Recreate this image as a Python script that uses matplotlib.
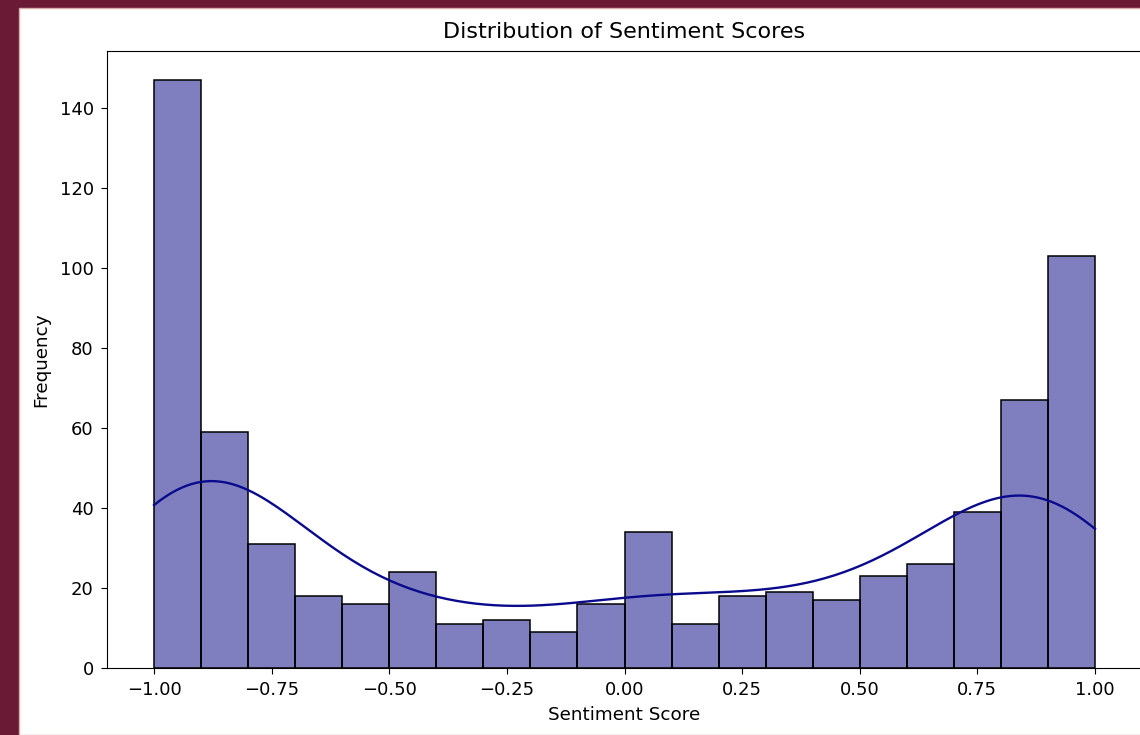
import numpy as np
import matplotlib.pyplot as plt
from matplotlib.patches import Rectangle

# histogram of sentiment scores, 20 bins of width 0.1 on [-1, 1]
bin_edges = np.linspace(-1.0, 1.0, 21)
counts = [147, 59, 31, 18, 16, 24, 11, 12, 9, 16,
          34, 11, 18, 19, 17, 23, 26, 39, 67, 103]
x_ticks = [-1.0, -0.75, -0.5, -0.25, 0.0, 0.25, 0.5, 0.75, 1.0]
x_tick_labels = ['\u22121.00', '\u22120.75', '\u22120.50', '\u22120.25', '0.00',
                 '0.25', '0.50', '0.75', '1.00']

centers = (bin_edges[:-1] + bin_edges[1:]) / 2
weights = np.array(counts, dtype=float)
n = weights.sum()
width = bin_edges[1] - bin_edges[0]

# gaussian kde over the binned scores, scott bandwidth, scaled to counts
mean = np.sum(weights * centers) / n
std = np.sqrt(np.sum(weights * (centers - mean) ** 2) / (n - 1))
bw = std * n ** (-1 / 5)
xs = np.linspace(-1.0, 1.0, 200)
dens = np.sum(weights[None, :] * np.exp(-0.5 * ((xs[:, None] - centers[None, :]) / bw) ** 2), axis=1)
dens = dens / (n * bw * np.sqrt(2 * np.pi))
kde_counts = dens * n * width

fig = plt.figure(figsize=(11.4, 7.35), dpi=100)
fig.patch.set_facecolor('#6b1a36')
fig.patches.append(Rectangle((19 / 1140, 0), 1.0, 1 - 8 / 735, transform=fig.transFigure,
                             facecolor='white', edgecolor='#d9b0a8', linewidth=1.0, zorder=-10))

ax = fig.add_axes([107 / 1140, 1 - 668 / 735, 1035 / 1140, 617 / 735])
ax.bar(bin_edges[:-1], counts, width=width, align='edge', color='navy', alpha=0.5,
       edgecolor='none')
ax.bar(bin_edges[:-1], counts, width=width, align='edge', fill=False, edgecolor='black',
       linewidth=1.1)
ax.plot(xs, kde_counts, color='#0a0a8c', linewidth=1.7)

ax.set_xlim(-1.1, 1.1)
ax.set_ylim(0, 147 * 1.05)
ax.set_xticks(x_ticks)
ax.set_xticklabels(x_tick_labels)
ax.set_title('Distribution of Sentiment Scores', fontsize=16, pad=9.5)
ax.set_xlabel('Sentiment Score', fontsize=13.2, labelpad=5)
ax.set_ylabel('Frequency', fontsize=13.2, labelpad=7)
ax.tick_params(labelsize=13, length=4.5, pad=5)

fig.savefig('out.png', dpi=100, facecolor=fig.get_facecolor())
